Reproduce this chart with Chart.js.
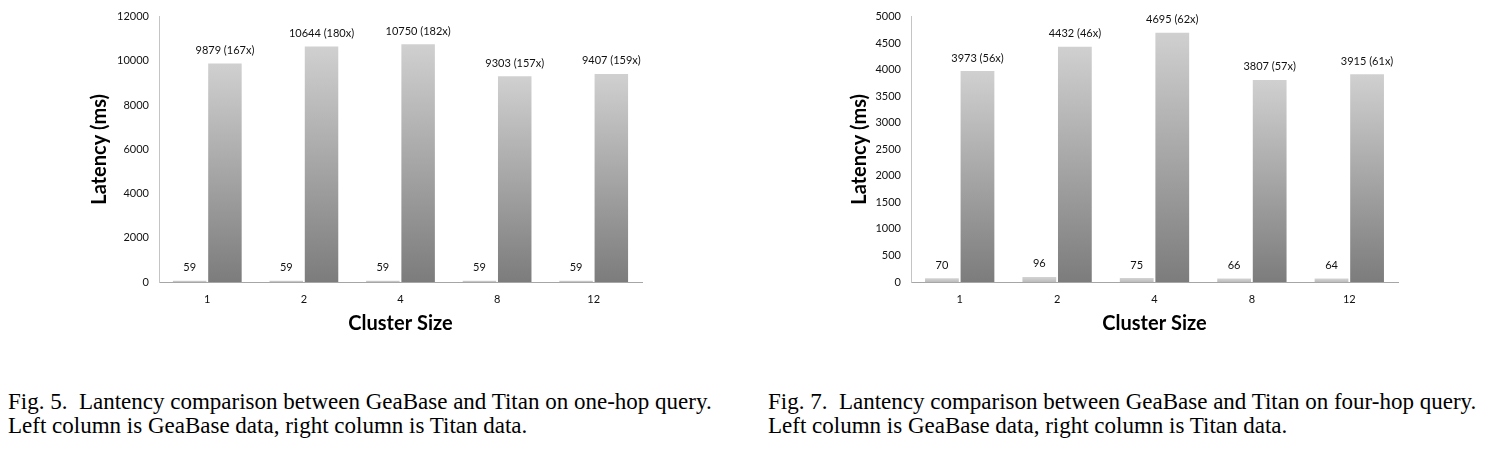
<!DOCTYPE html>
<html lang="en">
<head>
    <meta charset="UTF-8">
    <title>GeaBase vs Titan latency</title>
    <script src="https://cdn.jsdelivr.net/npm/chart.js"></script>
    <style>
        body { margin: 0; width: 1488px; height: 451px; background: #fff; position: relative; overflow: hidden; }
        .box { position: absolute; top: 0; height: 336px; }
        .caption { position: absolute; top: 390px; font-family: "Liberation Serif", serif; font-size: 23px; line-height: 24px; color: #000; white-space: nowrap; }
    </style>
</head>
<body>
    <div class="box" style="left:88px; width:572px;"><canvas id="oneHop"></canvas></div>
    <div class="box" style="left:848px; width:568px;"><canvas id="fourHop"></canvas></div>
    <div class="caption" style="left:8px;">Fig. 5.&nbsp; Lantency comparison between GeaBase and Titan on one-hop query.<br>Left column is GeaBase data, right column is Titan data.</div>
    <div class="caption" style="left:768px;">Fig. 7.&nbsp; Lantency comparison between GeaBase and Titan on four-hop query.<br>Left column is GeaBase data, right column is Titan data.</div>
    <script>
        // categories
        const clusterSizes = ['1', '2', '4', '8', '12'];

        // one-hop query (Fig. 5)
        const geabaseOneHop = [59, 59, 59, 59, 59];
        const titanOneHop = [9879, 10644, 10750, 9303, 9407];
        const speedupOneHop = [167, 180, 182, 157, 159];

        // four-hop query (Fig. 7)
        const geabaseFourHop = [70, 96, 75, 66, 64];
        const titanFourHop = [3973, 4432, 4695, 3807, 3915];
        const speedupFourHop = [56, 46, 62, 57, 61];

        // y axis ticks
        const oneHopMax = 12000, oneHopStep = 2000;
        const fourHopMax = 5000, fourHopStep = 500;

        const FONT = 'Lato';

        // gradient per bar, from the bar top down to zero
        function barFill(light, dark) {
            return function (ctx) {
                const chart = ctx.chart;
                if (!chart.chartArea || ctx.type !== 'data') return dark;
                const y = chart.scales.y;
                const top = y.getPixelForValue(ctx.raw);
                const bottom = y.getPixelForValue(0);
                if (bottom - top < 1) return light;
                const g = chart.ctx.createLinearGradient(0, top, 0, bottom);
                g.addColorStop(0, light);
                g.addColorStop(1, dark);
                return g;
            };
        }

        // value labels above the bars
        const barLabels = {
            id: 'barLabels',
            afterDatasetsDraw(chart) {
                const c = chart.ctx;
                c.save();
                c.font = '11px ' + FONT;
                c.fillStyle = '#111';
                c.textAlign = 'center';
                c.textBaseline = 'middle';
                chart.data.datasets.forEach((ds, i) => {
                    chart.getDatasetMeta(i).data.forEach((bar, j) => {
                        c.fillText(ds.labelText[j], bar.x, bar.y - 13);
                    });
                });
                c.restore();
            }
        };

        function drawChart(id, geabase, titan, speedup, max, step, scaleWidth) {
            const ctx = document.getElementById(id).getContext('2d');
            return new Chart(ctx, {
                type: 'bar',
                data: {
                    labels: clusterSizes,
                    datasets: [
                        {
                            label: 'GeaBase',
                            data: geabase,
                            labelText: geabase.map(v => String(v)),
                            backgroundColor: barFill('#d4d4d4', '#bcbcbc')
                        },
                        {
                            label: 'Titan',
                            data: titan,
                            labelText: titan.map((v, i) => v + ' (' + speedup[i] + 'x)'),
                            backgroundColor: barFill('#d0d0d0', '#7c7c7c')
                        }
                    ]
                },
                options: {
                    responsive: true,
                    maintainAspectRatio: false,
                    animation: false,
                    categoryPercentage: 0.73,
                    barPercentage: 0.95,
                    layout: { padding: { top: 14, right: 18, left: 0, bottom: 0 } },
                    plugins: {
                        legend: { display: false },
                        tooltip: { enabled: false }
                    },
                    scales: {
                        x: {
                            grid: { display: false, drawTicks: false },
                            border: { display: true, color: '#a6a6a6', width: 1 },
                            ticks: { color: '#111', font: { family: FONT, size: 11 }, padding: 11 },
                            title: {
                                display: true,
                                text: 'Cluster Size',
                                color: '#000',
                                font: { family: FONT, size: 20, weight: 'bold' },
                                padding: 0
                            },
                            afterFit(scale) { scale.height = 54; }
                        },
                        y: {
                            min: 0,
                            max: max,
                            grid: { display: false, drawTicks: false },
                            border: { display: true, color: '#c4c4c4', width: 1 },
                            ticks: {
                                stepSize: step,
                                color: '#111',
                                font: { family: FONT, size: 11 },
                                padding: 10,
                                callback: v => String(v)
                            },
                            title: {
                                display: true,
                                text: 'Latency (ms)',
                                color: '#000',
                                font: { family: FONT, size: 20, weight: 'bold' },
                                padding: 0
                            },
                            afterFit(scale) { scale.width = scaleWidth; }
                        }
                    }
                },
                plugins: [barLabels]
            });
        }

        drawChart('oneHop', geabaseOneHop, titanOneHop, speedupOneHop, oneHopMax, oneHopStep, 71);
        drawChart('fourHop', geabaseFourHop, titanFourHop, speedupFourHop, fourHopMax, fourHopStep, 63);
    </script>
</body>
</html>
